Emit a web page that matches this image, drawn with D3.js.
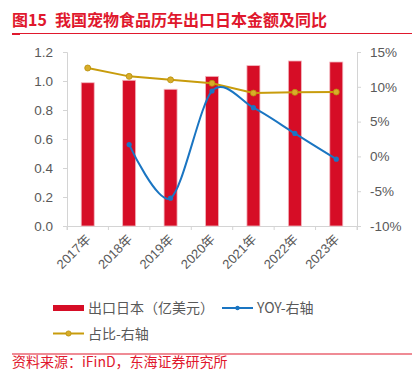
<!DOCTYPE html>
<html><head><meta charset="utf-8">
<script src="https://cdn.jsdelivr.net/npm/d3@7/dist/d3.min.js"></script>
<style>
html,body{margin:0;padding:0;background:#fff;}
svg{display:block;font-family:"Liberation Sans","Noto Sans CJK SC",Arial,sans-serif;}
</style></head>
<body>
<svg id="c" width="412" height="371"></svg>
<script>
const categories = ["2017年","2018年","2019年","2020年","2021年","2022年","2023年"];
const exportJapan = [0.988, 1.005, 0.943, 1.032, 1.106, 1.138, 1.131];
const yoy = [null, 1.7, -6.0, 9.4, 7.0, 3.3, -0.4];
const share = [12.7, 11.5, 11.0, 10.5, 9.1, 9.2, 9.25];
const leftTicks = [0, 0.2, 0.4, 0.6, 0.8, 1.0, 1.2];
const rightTicks = [-10, -5, 0, 5, 10, 15];

const RED = "#d60d26", BLUE = "#1a75c2", GOLD = "#c89c0c", GRAY = "#595959", AXIS = "#d4d4d4", TITLE = "#e0182d";
const svg = d3.select("#c");
const font = '"Liberation Sans","Noto Sans CJK SC",sans-serif';
const cjk = '"Noto Sans CJK SC",sans-serif';

// title
svg.append("text").attr("x", 12).attr("y", 26).attr("fill", TITLE)
  .attr("font-size", 16).attr("font-weight", "bold").attr("font-family", cjk)
  .text("图15");
svg.append("text").attr("x", 55).attr("y", 26).attr("fill", TITLE)
  .attr("font-size", 16).attr("font-weight", "bold").attr("font-family", cjk)
  .text("我国宠物食品历年出口日本金额及同比");
svg.append("line").attr("x1", 12).attr("x2", 412).attr("y1", 33.5).attr("y2", 33.5)
  .attr("stroke", TITLE).attr("stroke-width", 1.2);
svg.append("line").attr("x1", 12).attr("x2", 20).attr("y1", 34).attr("y2", 34)
  .attr("stroke", TITLE).attr("stroke-width", 2);

const L = 67, R = 357, T = 52, B = 226;
const x = d3.scaleBand().domain(categories).range([L, R]);
const yL = d3.scaleLinear().domain([0, 1.2]).range([B, T]);
const yR = d3.scaleLinear().domain([-10, 15]).range([B, T]);

// axes
const gL = svg.append("g").attr("transform", `translate(${L},0)`)
  .call(d3.axisLeft(yL).tickValues(leftTicks).tickFormat(d3.format(".1f")).tickSize(4).tickPadding(10));
const gR = svg.append("g").attr("transform", `translate(${R},0)`)
  .call(d3.axisRight(yR).tickValues(rightTicks).tickFormat(d => d + "%").tickSize(4).tickPadding(10));
const gB = svg.append("g").attr("transform", `translate(0,${B})`)
  .call(d3.axisBottom(x).tickSize(4).tickSizeOuter(4).tickFormat(""));
gB.selectAll(".tick line").attr("transform", `translate(${-x.bandwidth()/2},0)`);
[gL, gR, gB].forEach(g => {
  g.select(".domain").attr("stroke", AXIS);
  g.selectAll(".tick line").attr("stroke", AXIS);
  g.selectAll("text").attr("fill", GRAY).attr("font-size", 13.5).attr("font-family", font);
});
gR.selectAll("text").attr("x", 13);
gB.append("line").attr("x1", R).attr("x2", R).attr("y1", 0).attr("y2", 4).attr("stroke", AXIS);

// x labels rotated
svg.append("g").selectAll("text").data(categories).join("text")
  .attr("transform", d => `translate(${x(d) + x.bandwidth()/2 + 4},${B + 14}) rotate(-45)`)
  .attr("text-anchor", "end").attr("fill", GRAY).attr("font-size", 13).attr("font-family", font)
  .text(d => d);

// bars
const bw = 13;
svg.append("g").selectAll("rect").data(exportJapan).join("rect")
  .attr("x", (d, i) => x(categories[i]) + x.bandwidth()/2 - bw/2)
  .attr("y", d => yL(d)).attr("width", bw).attr("height", d => B - yL(d))
  .attr("fill", RED).attr("stroke", "#f2b8c0").attr("stroke-width", 0.8);

// share line
const shareLine = d3.line().x((d, i) => x(categories[i]) + x.bandwidth()/2).y(d => yR(d));
svg.append("path").datum(share).attr("d", shareLine).attr("fill", "none")
  .attr("stroke", GOLD).attr("stroke-width", 2);
svg.append("g").selectAll("circle").data(share).join("circle")
  .attr("cx", (d, i) => x(categories[i]) + x.bandwidth()/2).attr("cy", d => yR(d)).attr("r", 3)
  .attr("fill", "#d8ad2a").attr("stroke", "#b88f0a").attr("stroke-width", 0.8);

// yoy line
const yoyPts = yoy.map((v, i) => ({c: categories[i], v})).filter(d => d.v !== null);
const yoyLine = d3.line().x(d => x(d.c) + x.bandwidth()/2).y(d => yR(d.v)).curve(d3.curveCardinal.tension(0.1));
svg.append("path").datum(yoyPts).attr("d", yoyLine).attr("fill", "none")
  .attr("stroke", BLUE).attr("stroke-width", 2);
svg.append("g").selectAll("circle").data(yoyPts).join("circle")
  .attr("cx", d => x(d.c) + x.bandwidth()/2).attr("cy", d => yR(d.v)).attr("r", 2.6)
  .attr("fill", BLUE);

// legend
const lg = svg.append("g");
lg.append("rect").attr("x", 53).attr("y", 305).attr("width", 31).attr("height", 6).attr("fill", RED);
lg.append("text").attr("x", 88).attr("y", 313).attr("font-size", 14).attr("fill", GRAY).attr("font-family", cjk).text("出口日本（亿美元）");
lg.append("line").attr("x1", 222).attr("x2", 253).attr("y1", 308).attr("y2", 308).attr("stroke", BLUE).attr("stroke-width", 2);
lg.append("circle").attr("cx", 237.5).attr("cy", 308).attr("r", 2.2).attr("fill", BLUE);
lg.append("text").attr("x", 257).attr("y", 313).attr("font-size", 14).attr("fill", GRAY).attr("font-family", cjk).text("YOY-右轴");
lg.append("line").attr("x1", 53).attr("x2", 84).attr("y1", 333.5).attr("y2", 333.5).attr("stroke", GOLD).attr("stroke-width", 2);
lg.append("circle").attr("cx", 68.5).attr("cy", 333.5).attr("r", 2.6).attr("fill", "#d8ad2a").attr("stroke", "#b88f0a").attr("stroke-width", 0.8);
lg.append("text").attr("x", 88).attr("y", 338.5).attr("font-size", 14).attr("fill", GRAY).attr("font-family", cjk).text("占比-右轴");

// source
svg.append("line").attr("x1", 12).attr("x2", 412).attr("y1", 354).attr("y2", 354).attr("stroke", TITLE).attr("stroke-width", 1.2);
svg.append("text").attr("x", 12).attr("y", 366.5).attr("font-size", 14).attr("fill", TITLE).attr("font-family", cjk)
  .text("资料来源：iFinD，东海证券研究所");
</script>
</body></html>
